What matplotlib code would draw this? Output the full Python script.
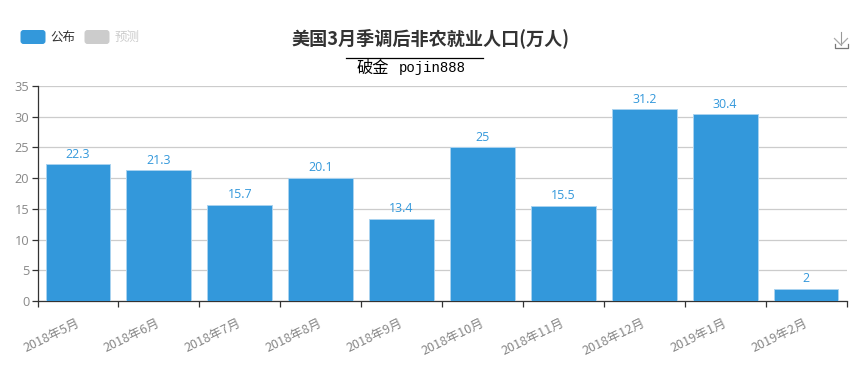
import matplotlib
matplotlib.use("Agg")
import matplotlib.pyplot as plt
from matplotlib.patches import FancyBboxPatch

plt.rcParams['font.family'] = ['Noto Sans CJK SC', 'DejaVu Sans']

# data
months = ["2018年5月", "2018年6月", "2018年7月", "2018年8月", "2018年9月",
          "2018年10月", "2018年11月", "2018年12月", "2019年1月", "2019年2月"]
values = [22.3, 21.3, 15.7, 20.1, 13.4, 25, 15.5, 31.2, 30.4, 2]
y_ticks = [0, 5, 10, 15, 20, 25, 30, 35]

title = "美国3月季调后非农就业人口(万人)"
legend_names = ["公布", "预测"]

BLUE = "#3398DB"
W, H = 865, 376

fig = plt.figure(figsize=(W / 100, H / 100), dpi=100)

# main plot area
left, right, top, bottom = 37.5, 846.5, 86, 301
ax = fig.add_axes([left / W, 1 - bottom / H, (right - left) / W, (bottom - top) / H])

positions = list(range(len(months)))
ax.bar(positions, values, width=0.8, color=BLUE, edgecolor="#a9d3f0", linewidth=0.7, zorder=3)

for p, v in zip(positions, values):
    ax.annotate(str(v), (p, v), xytext=(0, 2.5), textcoords="offset points",
                ha="center", va="bottom", fontsize=8.9, color=BLUE, zorder=4,
                family=["Open Sans", "DejaVu Sans"])

ax.set_xlim(-0.5, len(months) - 0.5)
ax.set_ylim(0, 35)
ax.set_yticks(y_ticks)
ax.yaxis.grid(True, color="#cccccc", linewidth=0.9)
ax.set_axisbelow(True)
for side in ["top", "right"]:
    ax.spines[side].set_visible(False)
for side in ["left", "bottom"]:
    ax.spines[side].set_color("#333333")
    ax.spines[side].set_linewidth(0.9)

# ticks sit between categories
ax.set_xticks([p - 0.5 for p in positions] + [len(months) - 0.5])
ax.set_xticklabels([])
ax.tick_params(axis="x", length=4, width=0.9, color="#333333")
ax.tick_params(axis="y", length=4, width=0.9, color="#333333", labelsize=9.2,
               labelcolor="#888888", pad=2)
for lab in ax.get_yticklabels():
    lab.set_family(["Open Sans", "DejaVu Sans"])

for p, name in zip(positions, months):
    ax.annotate(name, (p, 0), xytext=(-1.5, -11), textcoords="offset points",
                rotation=26, rotation_mode="anchor", ha="right", va="top",
                fontsize=9.15, color="#888888")

# overlay in pixel coordinates for title block, legend and icon
ov = fig.add_axes([0, 0, 1, 1], facecolor="none")
ov.set_xlim(0, W)
ov.set_ylim(H, 0)
ov.axis("off")

ov.text(430.5, 38.5, title, ha="center", va="center", fontsize=13.05,
        fontweight="bold", color="#333333")
ov.plot([346, 483], [57.5, 57.5], color="black", linewidth=0.9)
ov.text(357, 68, "破金", ha="left", va="center", fontsize=11.7, color="black")
ov.text(399, 68, "pojin888", ha="left", va="center", fontsize=10.1, color="black",
        family=["Liberation Mono", "DejaVu Sans"])

# legend
for x0, name, swatch, txt in zip([20.5, 84.5], legend_names, [BLUE, "#cccccc"], ["#333333", "#cccccc"]):
    ov.add_patch(FancyBboxPatch((x0, 30), 25, 14, boxstyle="round,pad=0,rounding_size=3",
                                facecolor=swatch, edgecolor="none"))
    ov.text(x0 + 30, 37, name, ha="left", va="center", fontsize=9, color=txt)

# download icon
ov.plot([841, 841], [32, 45], color="#999999", linewidth=0.8)
ov.plot([834.5, 841, 847.5], [38.5, 45, 38.5], color="#aaaaaa", linewidth=0.9)
ov.plot([834.5, 834.5, 847.5, 847.5], [43.5, 47.5, 47.5, 43.5], color="#777777", linewidth=0.9)

fig.savefig("out.png", dpi=100)
